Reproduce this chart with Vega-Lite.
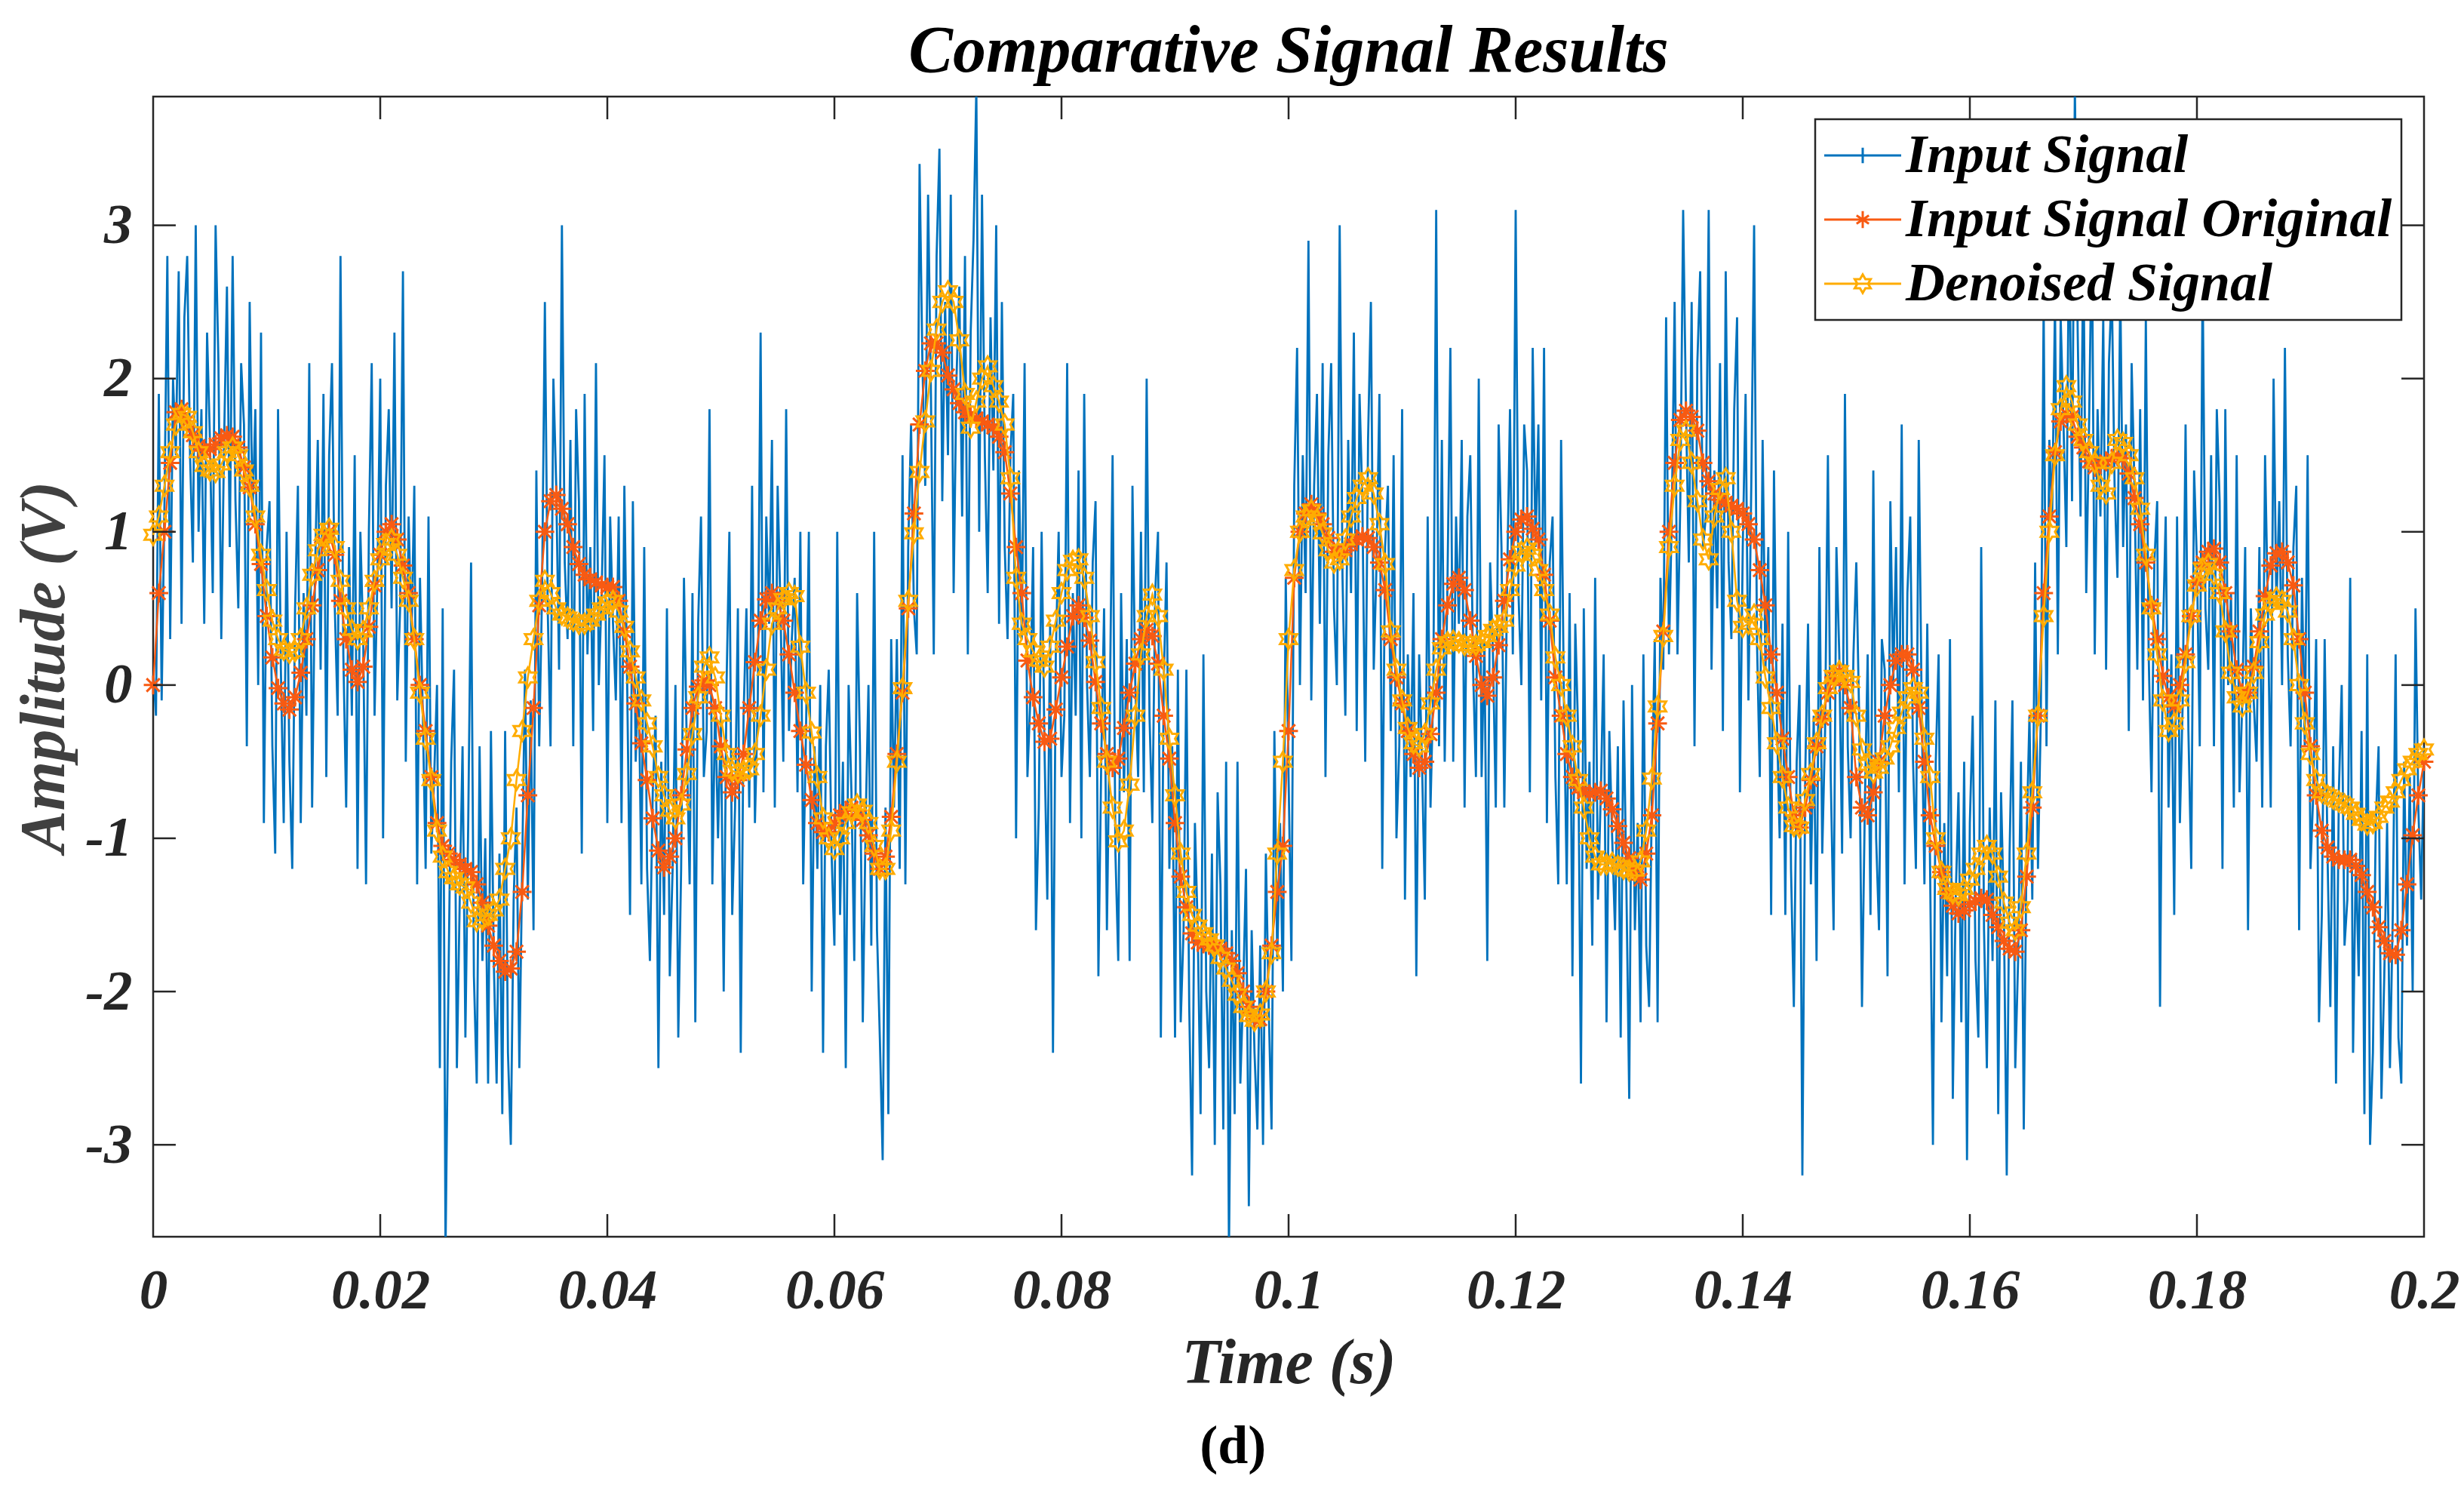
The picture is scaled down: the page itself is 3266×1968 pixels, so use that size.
{
  "$schema": "https://vega.github.io/schema/vega-lite/v6.json",
  "autosize": {"type": "none"},
  "padding": {"left": 203, "top": 128, "right": 53, "bottom": 329},
  "width": 3010,
  "height": 1511,
  "title": {"text": "Comparative Signal Results", "offset": 14},
  "data": {
    "values": [
      {"t":0,"n":0.1,"o":0,"d":0.98},{"t":0.00025,"n":-0.2},{"t":0.0005,"n":1.9,"o":0.6,"d":1.1},{"t":0.00075,"n":-0.1},{"t":0.001,"n":1.2,"o":1.0,"d":1.3},{"t":0.00125,"n":2.8},{"t":0.0015,"n":0.3,"o":1.45,"d":1.52},{"t":0.00175,"n":2.0},{"t":0.002,"n":1.5,"o":1.78,"d":1.7},{"t":0.00225,"n":2.7},{"t":0.0025,"n":0.4,"o":1.8,"d":1.77},{"t":0.00275,"n":2.4},{"t":0.003,"n":2.8,"o":1.72,"d":1.75},{"t":0.00325,"n":1.5},{"t":0.0035,"n":0.8,"o":1.63,"d":1.65},{"t":0.00375,"n":3.0},{"t":0.004,"n":1.0,"o":1.56,"d":1.52},{"t":0.00425,"n":1.8},{"t":0.0045,"n":0.4,"o":1.53,"d":1.43},{"t":0.00475,"n":2.3},
      {"t":0.005,"n":1.6,"o":1.54,"d":1.4},{"t":0.00525,"n":0.6},{"t":0.0055,"n":3.0,"o":1.57,"d":1.39},{"t":0.00575,"n":2.1},{"t":0.006,"n":0.3,"o":1.61,"d":1.44},{"t":0.00625,"n":1.6},{"t":0.0065,"n":2.6,"o":1.63,"d":1.52},{"t":0.00675,"n":0.9},{"t":0.007,"n":2.8,"o":1.62,"d":1.55},{"t":0.00725,"n":1.2},{"t":0.0075,"n":0.5,"o":1.55,"d":1.5},{"t":0.00775,"n":2.1},{"t":0.008,"n":1.7,"o":1.42,"d":1.4},{"t":0.00825,"n":-0.4},{"t":0.0085,"n":2.5,"o":1.29,"d":1.3},{"t":0.00875,"n":1.1},{"t":0.009,"n":1.8,"o":1.05,"d":1.1},{"t":0.00925,"n":0.0},{"t":0.0095,"n":2.3,"o":0.79,"d":0.85},{"t":0.00975,"n":-0.9},
      {"t":0.01,"n":0.9,"o":0.45,"d":0.62},{"t":0.01025,"n":1.2},{"t":0.0105,"n":-0.4,"o":0.18,"d":0.42},{"t":0.01075,"n":-1.1},{"t":0.011,"n":1.8,"o":-0.02,"d":0.3},{"t":0.01125,"n":0.1},{"t":0.0115,"n":-0.9,"o":-0.12,"d":0.23},{"t":0.01175,"n":1.0},{"t":0.012,"n":-0.5,"o":-0.16,"d":0.21},{"t":0.01225,"n":-1.2},{"t":0.0125,"n":0.5,"o":-0.08,"d":0.22},{"t":0.01275,"n":1.3},{"t":0.013,"n":-0.9,"o":0.08,"d":0.3},{"t":0.01325,"n":0.6},{"t":0.0135,"n":-0.2,"o":0.3,"d":0.5},{"t":0.01375,"n":2.1},{"t":0.014,"n":-0.8,"o":0.52,"d":0.72},{"t":0.01425,"n":0.7},{"t":0.0145,"n":1.6,"o":0.75,"d":0.88},{"t":0.01475,"n":0.1},
      {"t":0.015,"n":1.9,"o":0.93,"d":0.98},{"t":0.01525,"n":-0.6},{"t":0.0155,"n":1.5,"o":1.0,"d":1.02},{"t":0.01575,"n":2.1},{"t":0.016,"n":0.5,"o":0.85,"d":0.9},{"t":0.01625,"n":-0.2},{"t":0.0165,"n":2.8,"o":0.55,"d":0.68},{"t":0.01675,"n":0.2},{"t":0.017,"n":-0.8,"o":0.3,"d":0.5},{"t":0.01725,"n":0.9},{"t":0.0175,"n":-0.2,"o":0.1,"d":0.36},{"t":0.01775,"n":1.5},{"t":0.018,"n":-1.2,"o":0.02,"d":0.3},{"t":0.01825,"n":1.0},{"t":0.0185,"n":0.3,"o":0.12,"d":0.35},{"t":0.01875,"n":-1.3},{"t":0.019,"n":1.0,"o":0.38,"d":0.5},{"t":0.01925,"n":2.1},{"t":0.0195,"n":-0.2,"o":0.65,"d":0.68},{"t":0.01975,"n":0.7},
      {"t":0.02,"n":2.0,"o":0.85,"d":0.82},{"t":0.02025,"n":-1.0},{"t":0.0205,"n":1.3,"o":1.0,"d":0.92},{"t":0.02075,"n":1.8},{"t":0.021,"n":0.5,"o":1.05,"d":0.95},{"t":0.02125,"n":2.3},{"t":0.0215,"n":-0.1,"o":0.95,"d":0.85},{"t":0.02175,"n":0.5},{"t":0.022,"n":2.7,"o":0.78,"d":0.7},{"t":0.02225,"n":-0.5},{"t":0.0225,"n":1.1,"o":0.6,"d":0.55},{"t":0.02275,"n":0.3},{"t":0.023,"n":1.3,"o":0.3,"d":0.3},{"t":0.02325,"n":-1.3},{"t":0.0235,"n":0.7,"o":0.0,"d":-0.05},{"t":0.02375,"n":-0.2},{"t":0.024,"n":-1.2,"o":-0.3,"d":-0.35},{"t":0.02425,"n":1.1},{"t":0.0245,"n":-1.1,"o":-0.6,"d":-0.62},{"t":0.02475,"n":-0.6},
      {"t":0.025,"n":0.0,"o":-0.9,"d":-0.95},{"t":0.02525,"n":-2.5},{"t":0.0255,"n":0.5,"o":-1.05,"d":-1.12},{"t":0.02575,"n":-3.7},{"t":0.026,"n":-2.0,"o":-1.1,"d":-1.22},{"t":0.02625,"n":-0.5},{"t":0.0265,"n":0.1,"o":-1.14,"d":-1.26},{"t":0.02675,"n":-2.5},{"t":0.027,"n":-1.4,"o":-1.17,"d":-1.3},{"t":0.02725,"n":-0.4},{"t":0.0275,"n":-2.3,"o":-1.2,"d":-1.32},{"t":0.02775,"n":-0.9},{"t":0.028,"n":0.8,"o":-1.22,"d":-1.42},{"t":0.02825,"n":-1.9},{"t":0.0285,"n":-2.6,"o":-1.3,"d":-1.54},{"t":0.02875,"n":-0.4},{"t":0.029,"n":-1.8,"o":-1.42,"d":-1.53},{"t":0.02925,"n":-1.0},{"t":0.0295,"n":-2.6,"o":-1.57,"d":-1.5},{"t":0.02975,"n":-0.3},
      {"t":0.03,"n":-1.8,"o":-1.7,"d":-1.47},{"t":0.03025,"n":-2.6},{"t":0.0305,"n":-1.1,"o":-1.8,"d":-1.4},{"t":0.03075,"n":-2.8},{"t":0.031,"n":-0.3,"o":-1.87,"d":-1.2},{"t":0.03125,"n":-2.4},{"t":0.0315,"n":-3.0,"o":-1.85,"d":-1.0},{"t":0.03175,"n":-1.4},{"t":0.032,"n":-0.8,"o":-1.74,"d":-0.62},{"t":0.03225,"n":-2.5},{"t":0.0325,"n":-1.2,"o":-1.35,"d":-0.3},{"t":0.03275,"n":0.1},{"t":0.033,"n":-1.4,"o":-0.72,"d":0.05},{"t":0.03325,"n":-0.1},{"t":0.0335,"n":-1.6,"o":-0.15,"d":0.3},{"t":0.03375,"n":1.4},{"t":0.034,"n":-0.4,"o":0.52,"d":0.55},{"t":0.03425,"n":0.6},{"t":0.0345,"n":2.5,"o":1.0,"d":0.68},{"t":0.03475,"n":0.5},
      {"t":0.035,"n":-0.4,"o":1.2,"d":0.6},{"t":0.03525,"n":2.0},{"t":0.0355,"n":1.3,"o":1.24,"d":0.5},{"t":0.03575,"n":0.1},{"t":0.036,"n":3.0,"o":1.15,"d":0.46},{"t":0.03625,"n":0.8},{"t":0.0365,"n":0.3,"o":1.05,"d":0.44},{"t":0.03675,"n":1.6},{"t":0.037,"n":-0.4,"o":0.9,"d":0.42},{"t":0.03725,"n":1.8},{"t":0.0375,"n":1.2,"o":0.79,"d":0.4},{"t":0.03775,"n":-1.1},{"t":0.038,"n":1.9,"o":0.72,"d":0.4},{"t":0.03825,"n":0.2},{"t":0.0385,"n":0.9,"o":0.69,"d":0.42},{"t":0.03875,"n":-0.3},{"t":0.039,"n":2.1,"o":0.67,"d":0.46},{"t":0.03925,"n":0.0},{"t":0.0395,"n":0.6,"o":0.65,"d":0.5},{"t":0.03975,"n":1.5},
      {"t":0.04,"n":-0.9,"o":0.64,"d":0.54},{"t":0.04025,"n":1.1},{"t":0.0405,"n":0.4,"o":0.64,"d":0.55},{"t":0.04075,"n":-0.1},{"t":0.041,"n":1.1,"o":0.55,"d":0.48},{"t":0.04125,"n":-0.9},{"t":0.0415,"n":1.3,"o":0.35,"d":0.38},{"t":0.04175,"n":0.0},{"t":0.042,"n":-1.5,"o":0.12,"d":0.22},{"t":0.04225,"n":1.2},{"t":0.0425,"n":-0.5,"o":-0.12,"d":0.05},{"t":0.04275,"n":0.1},{"t":0.043,"n":-1.3,"o":-0.38,"d":-0.1},{"t":0.04325,"n":0.9},{"t":0.0435,"n":-1.2,"o":-0.62,"d":-0.25},{"t":0.04375,"n":-1.8},{"t":0.044,"n":-0.7,"o":-0.87,"d":-0.4},{"t":0.04425,"n":-0.2},{"t":0.0445,"n":-2.5,"o":-1.08,"d":-0.6},{"t":0.04475,"n":-0.5},
      {"t":0.045,"n":-1.5,"o":-1.19,"d":-0.72},{"t":0.04525,"n":0.5},{"t":0.0455,"n":-1.9,"o":-1.12,"d":-0.82},{"t":0.04575,"n":-1.2},{"t":0.046,"n":0.0,"o":-1.0,"d":-0.87},{"t":0.04625,"n":-2.3},{"t":0.0465,"n":-1.2,"o":-0.72,"d":-0.78},{"t":0.04675,"n":0.7},{"t":0.047,"n":-0.4,"o":-0.42,"d":-0.58},{"t":0.04725,"n":-1.3},{"t":0.0475,"n":0.6,"o":-0.15,"d":-0.32},{"t":0.04775,"n":-2.2},{"t":0.048,"n":0.4,"o":-0.01,"d":-0.08},{"t":0.04825,"n":1.1},{"t":0.0485,"n":-0.6,"o":0.03,"d":0.12},{"t":0.04875,"n":-0.3},{"t":0.049,"n":1.8,"o":0.0,"d":0.18},{"t":0.04925,"n":-1.3},{"t":0.0495,"n":-0.1,"o":-0.15,"d":0.05},{"t":0.04975,"n":-1.0},
      {"t":0.05,"n":-0.2,"o":-0.4,"d":-0.2},{"t":0.05025,"n":-2.0},{"t":0.0505,"n":0.0,"o":-0.6,"d":-0.45},{"t":0.05075,"n":1.0},{"t":0.051,"n":-1.5,"o":-0.7,"d":-0.56},{"t":0.05125,"n":-0.8},{"t":0.0515,"n":0.5,"o":-0.62,"d":-0.57},{"t":0.05175,"n":-2.4},{"t":0.052,"n":-0.2,"o":-0.45,"d":-0.56},{"t":0.05225,"n":0.5},{"t":0.0525,"n":-0.8,"o":-0.15,"d":-0.55},{"t":0.05275,"n":1.3},{"t":0.053,"n":-0.9,"o":0.15,"d":-0.45},{"t":0.05325,"n":-0.1},{"t":0.0535,"n":2.3,"o":0.42,"d":-0.2},{"t":0.05375,"n":-0.7},{"t":0.054,"n":1.1,"o":0.56,"d":0.1},{"t":0.05425,"n":0.4},{"t":0.0545,"n":1.6,"o":0.6,"d":0.4},{"t":0.05475,"n":-0.8},
      {"t":0.055,"n":1.3,"o":0.55,"d":0.5},{"t":0.05525,"n":0.5},{"t":0.0555,"n":-0.5,"o":0.42,"d":0.56},{"t":0.05575,"n":1.8},{"t":0.056,"n":-0.3,"o":0.2,"d":0.6},{"t":0.05625,"n":0.3},{"t":0.0565,"n":0.7,"o":-0.05,"d":0.58},{"t":0.05675,"n":-0.7},{"t":0.057,"n":1.0,"o":-0.3,"d":0.25},{"t":0.05725,"n":-1.3},{"t":0.0575,"n":-0.3,"o":-0.52,"d":-0.05},{"t":0.05775,"n":1.0},{"t":0.058,"n":-2.0,"o":-0.75,"d":-0.31},{"t":0.05825,"n":-0.4},{"t":0.0585,"n":-1.2,"o":-0.9,"d":-0.6},{"t":0.05875,"n":0.0},{"t":0.059,"n":-2.4,"o":-0.96,"d":-0.87},{"t":0.05925,"n":-0.4},{"t":0.0595,"n":0.1,"o":-0.96,"d":-1.0},{"t":0.05975,"n":-1.1},
      {"t":0.06,"n":-1.7,"o":-0.9,"d":-1.07},{"t":0.06025,"n":1.0},{"t":0.0605,"n":-1.5,"o":-0.85,"d":-1.0},{"t":0.06075,"n":-0.5},{"t":0.061,"n":-2.5,"o":-0.82,"d":-0.9},{"t":0.06125,"n":0.0},{"t":0.0615,"n":-0.7,"o":-0.8,"d":-0.83},{"t":0.06175,"n":-1.8},{"t":0.062,"n":0.6,"o":-0.82,"d":-0.78},{"t":0.06225,"n":-0.4},{"t":0.0625,"n":-2.2,"o":-0.88,"d":-0.82},{"t":0.06275,"n":-0.9},{"t":0.063,"n":0.0,"o":-0.98,"d":-0.9},{"t":0.06325,"n":-1.7},{"t":0.0635,"n":1.0,"o":-1.1,"d":-1.05},{"t":0.06375,"n":-1.6},{"t":0.064,"n":-2.3,"o":-1.2,"d":-1.2},{"t":0.06425,"n":-3.1},{"t":0.0645,"n":-0.8,"o":-1.12,"d":-1.2},{"t":0.06475,"n":-2.8},
      {"t":0.065,"n":0.3,"o":-0.86,"d":-0.95},{"t":0.06525,"n":-0.8},{"t":0.0655,"n":0.3,"o":-0.45,"d":-0.5},{"t":0.06575,"n":-1.2},{"t":0.066,"n":1.5,"o":-0.05,"d":-0.02},{"t":0.06625,"n":-1.3},{"t":0.0665,"n":0.9,"o":0.5,"d":0.55},{"t":0.06675,"n":1.7},{"t":0.067,"n":0.5,"o":1.12,"d":0.99},{"t":0.06725,"n":0.2},{"t":0.0675,"n":3.4,"o":1.7,"d":1.39},{"t":0.06775,"n":2.1},{"t":0.068,"n":1.3,"o":2.05,"d":1.72},{"t":0.06825,"n":3.2},{"t":0.0685,"n":1.9,"o":2.23,"d":2.05},{"t":0.06875,"n":0.2},{"t":0.069,"n":2.8,"o":2.23,"d":2.32},{"t":0.06925,"n":3.5},{"t":0.0695,"n":1.2,"o":2.17,"d":2.5},{"t":0.06975,"n":2.5},
      {"t":0.07,"n":1.5,"o":2.02,"d":2.57},{"t":0.07025,"n":3.2},{"t":0.0705,"n":0.6,"o":1.93,"d":2.5},{"t":0.07075,"n":2.0},{"t":0.071,"n":2.6,"o":1.84,"d":2.25},{"t":0.07125,"n":1.1},{"t":0.0715,"n":2.8,"o":1.78,"d":1.9},{"t":0.07175,"n":0.2},{"t":0.072,"n":2.3,"o":1.75,"d":1.68},{"t":0.07225,"n":2.9},{"t":0.0725,"n":3.9,"o":1.74,"d":1.85},{"t":0.07275,"n":1.0},{"t":0.073,"n":3.2,"o":1.72,"d":2.0},{"t":0.07325,"n":1.5},{"t":0.0735,"n":0.6,"o":1.7,"d":2.08},{"t":0.07375,"n":2.4},{"t":0.074,"n":1.4,"o":1.68,"d":1.95},{"t":0.07425,"n":3.0},{"t":0.0745,"n":0.4,"o":1.62,"d":1.85},{"t":0.07475,"n":2.5},
      {"t":0.075,"n":0.9,"o":1.52,"d":1.7},{"t":0.07525,"n":0.3},{"t":0.0755,"n":1.5,"o":1.25,"d":1.35},{"t":0.07575,"n":1.9},{"t":0.076,"n":-1.0,"o":0.9,"d":0.7},{"t":0.07625,"n":1.4},{"t":0.0765,"n":0.3,"o":0.6,"d":0.4},{"t":0.07675,"n":2.1},{"t":0.077,"n":-0.6,"o":0.16,"d":0.3},{"t":0.07725,"n":-0.1},{"t":0.0775,"n":0.9,"o":-0.08,"d":0.22},{"t":0.07775,"n":-1.6},{"t":0.078,"n":-0.8,"o":-0.25,"d":0.16},{"t":0.07825,"n":1.0},{"t":0.0785,"n":-0.4,"o":-0.37,"d":0.12},{"t":0.07875,"n":-1.4},{"t":0.079,"n":0.4,"o":-0.35,"d":0.25},{"t":0.07925,"n":-2.4},{"t":0.0795,"n":0.2,"o":-0.16,"d":0.42},{"t":0.07975,"n":1.0},
      {"t":0.08,"n":-0.6,"o":0.05,"d":0.6},{"t":0.08025,"n":-0.2},{"t":0.0805,"n":2.1,"o":0.25,"d":0.75},{"t":0.08075,"n":-0.9},{"t":0.081,"n":0.6,"o":0.45,"d":0.81},{"t":0.08125,"n":-0.2},{"t":0.0815,"n":1.4,"o":0.52,"d":0.82},{"t":0.08175,"n":-1.0},{"t":0.082,"n":1.9,"o":0.44,"d":0.7},{"t":0.08225,"n":0.0},{"t":0.0825,"n":-0.6,"o":0.29,"d":0.45},{"t":0.08275,"n":0.8},{"t":0.083,"n":1.2,"o":0.02,"d":0.15},{"t":0.08325,"n":-1.9},{"t":0.0835,"n":-0.5,"o":-0.25,"d":-0.15},{"t":0.08375,"n":0.5},{"t":0.084,"n":-1.6,"o":-0.45,"d":-0.5},{"t":0.08425,"n":-0.2},{"t":0.0845,"n":1.5,"o":-0.54,"d":-0.8},{"t":0.08475,"n":-1.1},
      {"t":0.085,"n":-1.8,"o":-0.48,"d":-1.02},{"t":0.08525,"n":0.6},{"t":0.0855,"n":-0.7,"o":-0.28,"d":-0.95},{"t":0.08575,"n":0.3},{"t":0.086,"n":-1.8,"o":-0.05,"d":-0.65},{"t":0.08625,"n":1.3},{"t":0.0865,"n":0.0,"o":0.14,"d":-0.2},{"t":0.08675,"n":-0.6},{"t":0.087,"n":1.0,"o":0.3,"d":0.2},{"t":0.08725,"n":-0.7},{"t":0.0875,"n":2.0,"o":0.36,"d":0.45},{"t":0.08775,"n":-0.2},{"t":0.088,"n":-0.9,"o":0.32,"d":0.59},{"t":0.08825,"n":0.6},{"t":0.0885,"n":1.0,"o":0.14,"d":0.45},{"t":0.08875,"n":-2.3},{"t":0.089,"n":0.0,"o":-0.2,"d":0.1},{"t":0.08925,"n":0.8},{"t":0.0895,"n":-1.2,"o":-0.48,"d":-0.35},{"t":0.08975,"n":-0.4},
      {"t":0.09,"n":-2.3,"o":-0.9,"d":-0.72},{"t":0.09025,"n":0.1},{"t":0.0905,"n":-2.2,"o":-1.25,"d":-1.1},{"t":0.09075,"n":-1.6},{"t":0.091,"n":0.1,"o":-1.45,"d":-1.35},{"t":0.09125,"n":-2.1},{"t":0.0915,"n":-3.2,"o":-1.62,"d":-1.5},{"t":0.09175,"n":-0.9},{"t":0.092,"n":-1.6,"o":-1.68,"d":-1.57},{"t":0.09225,"n":-2.8},{"t":0.0925,"n":0.2,"o":-1.69,"d":-1.62},{"t":0.09275,"n":-2.0},{"t":0.093,"n":-2.5,"o":-1.7,"d":-1.66},{"t":0.09325,"n":-1.1},{"t":0.0935,"n":-3.0,"o":-1.71,"d":-1.7},{"t":0.09375,"n":-0.7},{"t":0.094,"n":-1.3,"o":-1.72,"d":-1.78},{"t":0.09425,"n":-2.9},{"t":0.0945,"n":-0.5,"o":-1.75,"d":-1.85},{"t":0.09475,"n":-3.7},
      {"t":0.095,"n":-1.6,"o":-1.8,"d":-1.93},{"t":0.09525,"n":-2.8},{"t":0.0955,"n":-0.5,"o":-1.88,"d":-2.02},{"t":0.09575,"n":-2.6},{"t":0.096,"n":-2.0,"o":-2.0,"d":-2.1},{"t":0.09625,"n":-1.2},{"t":0.0965,"n":-3.4,"o":-2.1,"d":-2.16},{"t":0.09675,"n":-1.6},{"t":0.097,"n":-2.4,"o":-2.18,"d":-2.19},{"t":0.09725,"n":-2.9},{"t":0.0975,"n":-1.7,"o":-2.18,"d":-2.15},{"t":0.09775,"n":-3.0},{"t":0.098,"n":-1.1,"o":-2.0,"d":-2.0},{"t":0.09825,"n":-2.1},{"t":0.0985,"n":-2.9,"o":-1.7,"d":-1.75},{"t":0.09875,"n":-0.3},{"t":0.099,"n":-1.8,"o":-1.35,"d":-1.1},{"t":0.09925,"n":-0.9},{"t":0.0995,"n":-2.0,"o":-1.05,"d":-0.5},{"t":0.09975,"n":0.7},
      {"t":0.1,"n":-0.6,"o":-0.3,"d":0.3},{"t":0.10025,"n":-1.8},{"t":0.1005,"n":1.3,"o":0.7,"d":0.75},{"t":0.10075,"n":2.2},{"t":0.101,"n":0.0,"o":1.0,"d":1.0},{"t":0.10125,"n":1.5},{"t":0.1015,"n":0.6,"o":1.12,"d":1.1},{"t":0.10175,"n":2.9},{"t":0.102,"n":-0.1,"o":1.18,"d":1.14},{"t":0.10225,"n":1.3},{"t":0.1025,"n":1.9,"o":1.12,"d":1.08},{"t":0.10275,"n":0.4},{"t":0.103,"n":2.1,"o":1.05,"d":0.99},{"t":0.10325,"n":-0.6},{"t":0.1035,"n":1.5,"o":0.96,"d":0.88},{"t":0.10375,"n":2.1},{"t":0.104,"n":0.5,"o":0.87,"d":0.8},{"t":0.10425,"n":0.0},{"t":0.1045,"n":3.0,"o":0.86,"d":0.82},{"t":0.10475,"n":0.7},
      {"t":0.105,"n":-0.2,"o":0.88,"d":0.95},{"t":0.10525,"n":1.6},{"t":0.1055,"n":0.6,"o":0.92,"d":1.1},{"t":0.10575,"n":2.3},{"t":0.106,"n":-0.3,"o":0.95,"d":1.22},{"t":0.10625,"n":1.9},{"t":0.1065,"n":1.2,"o":0.97,"d":1.3},{"t":0.10675,"n":-0.5},{"t":0.107,"n":1.6,"o":0.96,"d":1.35},{"t":0.10725,"n":2.5},{"t":0.1075,"n":0.1,"o":0.9,"d":1.25},{"t":0.10775,"n":0.8},{"t":0.108,"n":1.9,"o":0.8,"d":1.05},{"t":0.10825,"n":-1.2},{"t":0.1085,"n":0.9,"o":0.62,"d":0.79},{"t":0.10875,"n":1.3},{"t":0.109,"n":-0.3,"o":0.3,"d":0.35},{"t":0.10925,"n":1.5},{"t":0.1095,"n":-1.0,"o":0.05,"d":0.1},{"t":0.10975,"n":-0.4},
      {"t":0.11,"n":1.8,"o":-0.12,"d":-0.1},{"t":0.11025,"n":-1.4},{"t":0.1105,"n":0.2,"o":-0.3,"d":-0.28},{"t":0.11075,"n":-0.6},{"t":0.111,"n":0.6,"o":-0.45,"d":-0.38},{"t":0.11125,"n":-1.9},{"t":0.1115,"n":0.2,"o":-0.54,"d":-0.4},{"t":0.11175,"n":-0.5},{"t":0.112,"n":-1.4,"o":-0.5,"d":-0.32},{"t":0.11225,"n":1.1},{"t":0.1125,"n":-0.8,"o":-0.32,"d":-0.12},{"t":0.11275,"n":0.0},{"t":0.113,"n":3.1,"o":-0.05,"d":0.1},{"t":0.11325,"n":-0.4},{"t":0.1135,"n":1.6,"o":0.3,"d":0.24},{"t":0.11375,"n":-0.5},{"t":0.114,"n":0.7,"o":0.52,"d":0.28},{"t":0.11425,"n":2.2},{"t":0.1145,"n":-0.5,"o":0.66,"d":0.29},{"t":0.11475,"n":1.1},
      {"t":0.115,"n":0.4,"o":0.7,"d":0.28},{"t":0.11525,"n":1.6},{"t":0.1155,"n":-0.8,"o":0.62,"d":0.26},{"t":0.11575,"n":1.1},{"t":0.116,"n":1.5,"o":0.42,"d":0.26},{"t":0.11625,"n":0.1},{"t":0.1165,"n":-0.6,"o":0.19,"d":0.26},{"t":0.11675,"n":2.0},{"t":0.117,"n":-0.6,"o":0.0,"d":0.28},{"t":0.11725,"n":0.3},{"t":0.1175,"n":-1.8,"o":-0.07,"d":0.32},{"t":0.11775,"n":0.8},{"t":0.118,"n":0.2,"o":0.05,"d":0.36},{"t":0.11825,"n":-0.8},{"t":0.1185,"n":1.7,"o":0.26,"d":0.38},{"t":0.11875,"n":0.9},{"t":0.119,"n":-0.8,"o":0.55,"d":0.42},{"t":0.11925,"n":0.7},{"t":0.1195,"n":1.8,"o":0.82,"d":0.62},{"t":0.11975,"n":0.2},
      {"t":0.12,"n":3.1,"o":1.0,"d":0.78},{"t":0.12025,"n":0.6},{"t":0.1205,"n":0.0,"o":1.08,"d":0.87},{"t":0.12075,"n":1.7},{"t":0.121,"n":1.4,"o":1.1,"d":0.89},{"t":0.12125,"n":-0.7},{"t":0.1215,"n":2.2,"o":1.02,"d":0.85},{"t":0.12175,"n":0.9},{"t":0.122,"n":1.7,"o":0.95,"d":0.75},{"t":0.12225,"n":-0.1},{"t":0.1225,"n":2.2,"o":0.72,"d":0.62},{"t":0.12275,"n":-0.9},{"t":0.123,"n":0.8,"o":0.42,"d":0.46},{"t":0.12325,"n":1.1},{"t":0.1235,"n":-0.6,"o":0.05,"d":0.18},{"t":0.12375,"n":-1.3},{"t":0.124,"n":1.6,"o":-0.2,"d":0.0},{"t":0.12425,"n":-0.1},{"t":0.1245,"n":-1.3,"o":-0.45,"d":-0.2},{"t":0.12475,"n":0.6},
      {"t":0.125,"n":-1.9,"o":-0.6,"d":-0.4},{"t":0.12525,"n":0.4},{"t":0.1255,"n":-0.3,"o":-0.67,"d":-0.62},{"t":0.12575,"n":-2.6},{"t":0.126,"n":0.5,"o":-0.7,"d":-0.8},{"t":0.12625,"n":-1.2},{"t":0.1265,"n":-0.5,"o":-0.71,"d":-1.0},{"t":0.12675,"n":-1.7},{"t":0.127,"n":0.7,"o":-0.7,"d":-1.12},{"t":0.12725,"n":-1.4},{"t":0.1275,"n":-0.7,"o":-0.69,"d":-1.17},{"t":0.12775,"n":0.2},{"t":0.128,"n":-2.2,"o":-0.74,"d":-1.17},{"t":0.12825,"n":-0.3},{"t":0.1285,"n":-1.0,"o":-0.81,"d":-1.16},{"t":0.12875,"n":-1.6},{"t":0.129,"n":-0.4,"o":-0.92,"d":-1.18},{"t":0.12925,"n":-2.3},{"t":0.1295,"n":-0.1,"o":-1.03,"d":-1.2},{"t":0.12975,"n":-1.3},
      {"t":0.13,"n":-2.7,"o":-1.13,"d":-1.21},{"t":0.13025,"n":0.0},{"t":0.1305,"n":-1.6,"o":-1.22,"d":-1.21},{"t":0.13075,"n":-0.9},{"t":0.131,"n":-2.2,"o":-1.27,"d":-1.15},{"t":0.13125,"n":0.2},{"t":0.1315,"n":-1.7,"o":-1.1,"d":-0.95},{"t":0.13175,"n":-2.1},{"t":0.132,"n":-0.7,"o":-0.85,"d":-0.61},{"t":0.13225,"n":0.3},{"t":0.1325,"n":-2.2,"o":-0.25,"d":-0.14},{"t":0.13275,"n":0.7},{"t":0.133,"n":0.1,"o":0.35,"d":0.32},{"t":0.13325,"n":2.4},{"t":0.1335,"n":0.2,"o":1.0,"d":0.9},{"t":0.13375,"n":1.1},{"t":0.134,"n":2.5,"o":1.45,"d":1.3},{"t":0.13425,"n":0.2},{"t":0.1345,"n":1.2,"o":1.73,"d":1.6},{"t":0.13475,"n":3.1},
      {"t":0.135,"n":1.8,"o":1.79,"d":1.66},{"t":0.13525,"n":0.8},{"t":0.1355,"n":2.5,"o":1.75,"d":1.45},{"t":0.13575,"n":-0.4},{"t":0.136,"n":2.1,"o":1.66,"d":1.2},{"t":0.13625,"n":2.7},{"t":0.1365,"n":0.9,"o":1.45,"d":0.95},{"t":0.13675,"n":1.1},{"t":0.137,"n":3.1,"o":1.33,"d":0.82},{"t":0.13725,"n":0.1},{"t":0.1375,"n":1.4,"o":1.25,"d":1.1},{"t":0.13775,"n":0.5},{"t":0.138,"n":2.1,"o":1.21,"d":1.28},{"t":0.13825,"n":-0.3},{"t":0.1385,"n":2.7,"o":1.19,"d":1.35},{"t":0.13875,"n":0.8},{"t":0.139,"n":0.3,"o":1.17,"d":1.0},{"t":0.13925,"n":1.8},{"t":0.1395,"n":2.4,"o":1.15,"d":0.55},{"t":0.13975,"n":-0.7},
      {"t":0.14,"n":0.9,"o":1.12,"d":0.38},{"t":0.14025,"n":1.9},{"t":0.1405,"n":-0.1,"o":1.05,"d":0.4},{"t":0.14075,"n":1.3},{"t":0.141,"n":3.0,"o":0.95,"d":0.46},{"t":0.14125,"n":0.3},{"t":0.1415,"n":-0.6,"o":0.75,"d":0.3},{"t":0.14175,"n":1.6},{"t":0.142,"n":0.1,"o":0.52,"d":0.05},{"t":0.14225,"n":0.9},{"t":0.1425,"n":-1.5,"o":0.2,"d":-0.15},{"t":0.14275,"n":1.4},{"t":0.143,"n":-0.2,"o":-0.05,"d":-0.38},{"t":0.14325,"n":-1.0},{"t":0.1435,"n":0.4,"o":-0.35,"d":-0.6},{"t":0.14375,"n":-1.5},{"t":0.144,"n":1.0,"o":-0.6,"d":-0.8},{"t":0.14425,"n":-1.2},{"t":0.1445,"n":-2.1,"o":-0.85,"d":-0.92},{"t":0.14475,"n":-0.5},
      {"t":0.145,"n":0.0,"o":-0.93,"d":-0.93},{"t":0.14525,"n":-3.2},{"t":0.1455,"n":-0.6,"o":-0.8,"d":-0.75},{"t":0.14575,"n":0.4},{"t":0.146,"n":-1.3,"o":-0.62,"d":-0.58},{"t":0.14625,"n":-0.2},{"t":0.1465,"n":-1.8,"o":-0.4,"d":-0.38},{"t":0.14675,"n":0.9},{"t":0.147,"n":-1.1,"o":-0.22,"d":-0.2},{"t":0.14725,"n":-0.3},{"t":0.1475,"n":1.5,"o":-0.05,"d":-0.02},{"t":0.14775,"n":-0.6},{"t":0.148,"n":-1.6,"o":0.05,"d":0.06},{"t":0.14825,"n":0.9},{"t":0.1485,"n":0.2,"o":0.09,"d":0.09},{"t":0.14875,"n":-1.1},{"t":0.149,"n":1.9,"o":0.0,"d":0.06},{"t":0.14925,"n":-0.4},{"t":0.1495,"n":-1.0,"o":-0.15,"d":0.02},{"t":0.14975,"n":0.2},
      {"t":0.15,"n":0.8,"o":-0.6,"d":-0.2},{"t":0.15025,"n":-0.2},{"t":0.1505,"n":-2.1,"o":-0.8,"d":-0.42},{"t":0.15075,"n":-0.8},{"t":0.151,"n":0.2,"o":-0.85,"d":-0.52},{"t":0.15125,"n":-1.5},{"t":0.1515,"n":1.4,"o":-0.7,"d":-0.57},{"t":0.15175,"n":-1.0},{"t":0.152,"n":-1.6,"o":-0.5,"d":-0.54},{"t":0.15225,"n":0.3},{"t":0.1525,"n":0.1,"o":-0.2,"d":-0.48},{"t":0.15275,"n":-1.9},{"t":0.153,"n":1.2,"o":0.0,"d":-0.4},{"t":0.15325,"n":0.0},{"t":0.1535,"n":0.9,"o":0.16,"d":-0.28},{"t":0.15375,"n":-0.7},{"t":0.154,"n":1.7,"o":0.2,"d":-0.18},{"t":0.15425,"n":-1.3},{"t":0.1545,"n":0.6,"o":0.2,"d":-0.08},{"t":0.15475,"n":1.1},
      {"t":0.155,"n":-0.5,"o":0.1,"d":-0.02},{"t":0.15525,"n":-1.2},{"t":0.1555,"n":1.6,"o":-0.15,"d":-0.05},{"t":0.15575,"n":-0.1},{"t":0.156,"n":-1.3,"o":-0.5,"d":-0.35},{"t":0.15625,"n":0.4},{"t":0.1565,"n":-1.2,"o":-0.85,"d":-0.6},{"t":0.15675,"n":-3.0},{"t":0.157,"n":-0.5,"o":-1.05,"d":-1.0},{"t":0.15725,"n":0.2},{"t":0.1575,"n":-2.2,"o":-1.22,"d":-1.22},{"t":0.15775,"n":-0.9},{"t":0.158,"n":-1.9,"o":-1.35,"d":-1.33},{"t":0.15825,"n":0.3},{"t":0.1585,"n":-2.7,"o":-1.44,"d":-1.36},{"t":0.15875,"n":-1.4},{"t":0.159,"n":-0.7,"o":-1.49,"d":-1.37},{"t":0.15925,"n":-2.2},{"t":0.1595,"n":-0.5,"o":-1.47,"d":-1.33},{"t":0.15975,"n":-3.1},
      {"t":0.16,"n":-0.9,"o":-1.43,"d":-1.27},{"t":0.16025,"n":-0.2},{"t":0.1605,"n":-1.8,"o":-1.41,"d":-1.2},{"t":0.16075,"n":-2.3},{"t":0.161,"n":0.9,"o":-1.39,"d":-1.1},{"t":0.16125,"n":-1.6},{"t":0.1615,"n":-2.5,"o":-1.4,"d":-1.05},{"t":0.16175,"n":-0.8},{"t":0.162,"n":-1.8,"o":-1.5,"d":-1.1},{"t":0.16225,"n":-0.1},{"t":0.1625,"n":-2.8,"o":-1.58,"d":-1.25},{"t":0.16275,"n":-0.7},{"t":0.163,"n":-1.5,"o":-1.67,"d":-1.42},{"t":0.16325,"n":-3.2},{"t":0.1635,"n":-1.1,"o":-1.72,"d":-1.55},{"t":0.16375,"n":-0.1},{"t":0.164,"n":-2.5,"o":-1.74,"d":-1.6},{"t":0.16425,"n":-1.8},{"t":0.1645,"n":-0.5,"o":-1.6,"d":-1.45},{"t":0.16475,"n":-2.9},
      {"t":0.165,"n":-1.0,"o":-1.25,"d":-1.1},{"t":0.16525,"n":-0.2},{"t":0.1655,"n":-1.4,"o":-0.8,"d":-0.7},{"t":0.16575,"n":0.8},{"t":0.166,"n":-1.2,"o":-0.2,"d":-0.2},{"t":0.16625,"n":-0.2},{"t":0.1665,"n":2.5,"o":0.6,"d":0.45},{"t":0.16675,"n":-0.4},{"t":0.167,"n":1.6,"o":1.1,"d":1.0},{"t":0.16725,"n":1.1},{"t":0.1675,"n":2.5,"o":1.52,"d":1.5},{"t":0.16775,"n":0.2},{"t":0.168,"n":2.4,"o":1.72,"d":1.8},{"t":0.16825,"n":1.7},{"t":0.1685,"n":0.9,"o":1.77,"d":1.95},{"t":0.16875,"n":3.1},{"t":0.169,"n":1.2,"o":1.75,"d":1.85},{"t":0.16925,"n":3.9},{"t":0.1695,"n":2.3,"o":1.62,"d":1.7},{"t":0.16975,"n":1.1},
      {"t":0.17,"n":2.9,"o":1.55,"d":1.6},{"t":0.17025,"n":0.6},{"t":0.1705,"n":1.7,"o":1.46,"d":1.52},{"t":0.17075,"n":3.0},{"t":0.171,"n":0.2,"o":1.42,"d":1.45},{"t":0.17125,"n":1.8},{"t":0.1715,"n":1.1,"o":1.44,"d":1.3},{"t":0.17175,"n":2.4},{"t":0.172,"n":0.1,"o":1.46,"d":1.25},{"t":0.17225,"n":2.1},{"t":0.1725,"n":2.6,"o":1.48,"d":1.45},{"t":0.17275,"n":1.3},{"t":0.173,"n":0.7,"o":1.49,"d":1.6},{"t":0.17325,"n":2.6},{"t":0.1735,"n":0.9,"o":1.48,"d":1.58},{"t":0.17375,"n":1.7},{"t":0.174,"n":-0.3,"o":1.38,"d":1.5},{"t":0.17425,"n":2.1},{"t":0.1745,"n":1.3,"o":1.22,"d":1.35},{"t":0.17475,"n":0.1},
      {"t":0.175,"n":1.8,"o":1.05,"d":1.15},{"t":0.17525,"n":-0.1},{"t":0.1755,"n":2.4,"o":0.8,"d":0.85},{"t":0.17575,"n":0.2},{"t":0.176,"n":-0.7,"o":0.52,"d":0.5},{"t":0.17625,"n":0.8},{"t":0.1765,"n":1.2,"o":0.3,"d":0.2},{"t":0.17675,"n":-2.1},{"t":0.177,"n":0.3,"o":0.06,"d":-0.1},{"t":0.17725,"n":1.1},{"t":0.1775,"n":-0.8,"o":-0.08,"d":-0.3},{"t":0.17775,"n":0.2},{"t":0.178,"n":-1.5,"o":-0.14,"d":-0.25},{"t":0.17825,"n":1.1},{"t":0.1785,"n":-0.9,"o":0.0,"d":-0.1},{"t":0.17875,"n":-0.1},{"t":0.179,"n":1.7,"o":0.2,"d":0.15},{"t":0.17925,"n":-0.3},{"t":0.1795,"n":-1.2,"o":0.45,"d":0.45},{"t":0.17975,"n":1.4},
      {"t":0.18,"n":0.8,"o":0.67,"d":0.65},{"t":0.18025,"n":-0.4},{"t":0.1805,"n":2.7,"o":0.8,"d":0.76},{"t":0.18075,"n":0.5},{"t":0.181,"n":0.1,"o":0.87,"d":0.79},{"t":0.18125,"n":1.5},{"t":0.1815,"n":-0.4,"o":0.89,"d":0.72},{"t":0.18175,"n":1.8},{"t":0.182,"n":1.2,"o":0.8,"d":0.6},{"t":0.18225,"n":-1.2},{"t":0.1825,"n":1.8,"o":0.6,"d":0.35},{"t":0.18275,"n":0.0},{"t":0.183,"n":0.6,"o":0.35,"d":0.08},{"t":0.18325,"n":-0.8},{"t":0.1835,"n":1.5,"o":0.1,"d":-0.08},{"t":0.18375,"n":-0.7},{"t":0.184,"n":-0.1,"o":-0.05,"d":-0.14},{"t":0.18425,"n":0.9},{"t":0.1845,"n":-1.6,"o":-0.05,"d":-0.05},{"t":0.18475,"n":0.5},
      {"t":0.185,"n":-0.1,"o":0.12,"d":0.08},{"t":0.18525,"n":-0.5},{"t":0.1855,"n":0.9,"o":0.35,"d":0.28},{"t":0.18575,"n":-0.8},{"t":0.186,"n":1.5,"o":0.58,"d":0.46},{"t":0.18625,"n":0.5},{"t":0.1865,"n":-0.8,"o":0.78,"d":0.53},{"t":0.18675,"n":2.0},{"t":0.187,"n":0.5,"o":0.86,"d":0.57},{"t":0.18725,"n":1.2},{"t":0.1875,"n":0.0,"o":0.87,"d":0.55},{"t":0.18775,"n":2.2},{"t":0.188,"n":0.2,"o":0.8,"d":0.48},{"t":0.18825,"n":-0.4},{"t":0.1885,"n":0.9,"o":0.65,"d":0.3},{"t":0.18875,"n":1.3},{"t":0.189,"n":-1.6,"o":0.3,"d":0.0},{"t":0.18925,"n":0.7},{"t":0.1895,"n":-0.4,"o":-0.05,"d":-0.25},{"t":0.18975,"n":1.5},
      {"t":0.19,"n":-1.2,"o":-0.4,"d":-0.45},{"t":0.19025,"n":-0.7},{"t":0.1905,"n":0.3,"o":-0.72,"d":-0.62},{"t":0.19075,"n":-2.2},{"t":0.191,"n":-1.5,"o":-0.95,"d":-0.7},{"t":0.19125,"n":0.3},{"t":0.1915,"n":-1.1,"o":-1.06,"d":-0.72},{"t":0.19175,"n":-2.1},{"t":0.192,"n":-0.4,"o":-1.12,"d":-0.74},{"t":0.19225,"n":-2.6},{"t":0.1925,"n":-0.7,"o":-1.14,"d":-0.76},{"t":0.19275,"n":0.0},{"t":0.193,"n":-1.7,"o":-1.14,"d":-0.78},{"t":0.19325,"n":-1.4},{"t":0.1935,"n":0.7,"o":-1.14,"d":-0.8},{"t":0.19375,"n":-2.4},{"t":0.194,"n":-1.1,"o":-1.18,"d":-0.84},{"t":0.19425,"n":-1.9},{"t":0.1945,"n":-0.3,"o":-1.24,"d":-0.88},{"t":0.19475,"n":-2.8},
      {"t":0.195,"n":0.2,"o":-1.35,"d":-0.91},{"t":0.19525,"n":-3.0},{"t":0.1955,"n":-2.4,"o":-1.45,"d":-0.9},{"t":0.19575,"n":-0.9},{"t":0.196,"n":-0.4,"o":-1.58,"d":-0.86},{"t":0.19625,"n":-2.7},{"t":0.1965,"n":-1.9,"o":-1.67,"d":-0.8},{"t":0.19675,"n":-0.9},{"t":0.197,"n":-2.5,"o":-1.75,"d":-0.76},{"t":0.19725,"n":-1.5},{"t":0.1975,"n":0.2,"o":-1.76,"d":-0.7},{"t":0.19775,"n":-2.3},{"t":0.198,"n":-2.6,"o":-1.6,"d":-0.62},{"t":0.19825,"n":-0.5},{"t":0.1985,"n":-1.7,"o":-1.3,"d":-0.55},{"t":0.19875,"n":-0.6},{"t":0.199,"n":-2.0,"o":-0.98,"d":-0.5},{"t":0.19925,"n":0.5},{"t":0.1995,"n":-0.8,"o":-0.72,"d":-0.45},{"t":0.19975,"n":-1.4},{"t":0.2,"n":-0.4,"o":-0.5,"d":-0.42}
    ]
  },
  "layer": [
    {
      "mark": {"type": "line", "strokeWidth": 2.8, "clip": true},
      "encoding": {
        "x": {"field": "t", "type": "quantitative", "title": "Time (s)",
              "scale": {"domain": [0, 0.2], "nice": false, "zero": false},
              "axis": {"values": [0, 0.02, 0.04, 0.06, 0.08, 0.1, 0.12, 0.14, 0.16, 0.18, 0.2], "format": "~g"}},
        "y": {"field": "n", "type": "quantitative", "title": "Amplitude (V)",
              "scale": {"domain": [-3.6, 3.84], "nice": false, "zero": false},
              "axis": {"values": [-3, -2, -1, 0, 1, 2, 3], "labelExpr": "datum.value < 0 ? '-' + format(-datum.value, '~g') : format(datum.value, '~g')"}},
        "color": {
          "datum": "Input Signal", "type": "nominal",
          "scale": {"domain": ["Input Signal", "Input Signal Original", "Denoised Signal"], "range": ["#0072BD", "#F85A12", "#FFAC00"]},
          "legend": {
            "title": null, "orient": "top-right", "offset": 30,
            "symbolType": "M-5,0H5", "symbolSize": 416, "symbolStrokeWidth": 3, "symbolOffset": 15,
            "labelFont": "Liberation Serif", "labelFontSize": 72, "labelFontStyle": "italic", "labelFontWeight": "bold", "labelColor": "#000000",
            "labelLimit": 2000, "labelOffset": 21, "rowPadding": 13, "padding": 12,
            "strokeColor": "#262626", "fillColor": "#ffffff",
            "encode": {
              "legend": {"update": {"strokeWidth": {"value": 2.5}}},
              "symbols": {"update": {
                "shape": {"signal": "datum.value === 'Input Signal' ? 'M-5,0H5M0,-1V1' : datum.value === 'Input Signal Original' ? 'M-5,0H5M0,-1.1V1.1M-0.8,-0.55L0.8,0.55M-0.8,0.55L0.8,-0.55' : 'M-5,0H5M0,-1.2L0.35,-0.6L1.04,-0.6L0.69,0L1.04,0.6L0.35,0.6L0,1.2L-0.35,0.6L-1.04,0.6L-0.69,0L-1.04,-0.6L-0.35,-0.6Z'"},
                "fill": {"value": "transparent"},
                "strokeWidth": {"value": 3}
              }}
            }
          }
        }
      }
    },
    {
      "transform": [{"filter": "isValid(datum.o)"}],
      "mark": {"type": "line", "strokeWidth": 2.5},
      "encoding": {
        "x": {"field": "t", "type": "quantitative", "title": "Time (s)"},
        "y": {"field": "o", "type": "quantitative", "title": "Amplitude (V)"},
        "color": {"datum": "Input Signal Original", "type": "nominal"}
      }
    },
    {
      "transform": [{"filter": "isValid(datum.o)"}],
      "mark": {"type": "point", "shape": "M0,-1V1M-1,0H1M-0.7,-0.7L0.7,0.7M-0.7,0.7L0.7,-0.7", "filled": false, "size": 620, "strokeWidth": 3, "opacity": 1},
      "encoding": {
        "x": {"field": "t", "type": "quantitative", "title": "Time (s)"},
        "y": {"field": "o", "type": "quantitative", "title": "Amplitude (V)"},
        "color": {"datum": "Input Signal Original", "type": "nominal"}
      }
    },
    {
      "transform": [{"filter": "isValid(datum.d)"}],
      "mark": {"type": "line", "strokeWidth": 2.5},
      "encoding": {
        "x": {"field": "t", "type": "quantitative", "title": "Time (s)"},
        "y": {"field": "d", "type": "quantitative", "title": "Amplitude (V)"},
        "color": {"datum": "Denoised Signal", "type": "nominal"}
      }
    },
    {
      "transform": [{"filter": "isValid(datum.d)"}],
      "mark": {"type": "point", "shape": "M0,-1L0.289,-0.5L0.866,-0.5L0.577,0L0.866,0.5L0.289,0.5L0,1L-0.289,0.5L-0.866,0.5L-0.577,0L-0.866,-0.5L-0.289,-0.5Z", "filled": false, "size": 680, "strokeWidth": 3, "opacity": 1},
      "encoding": {
        "x": {"field": "t", "type": "quantitative", "title": "Time (s)"},
        "y": {"field": "d", "type": "quantitative", "title": "Amplitude (V)"},
        "color": {"datum": "Denoised Signal", "type": "nominal"}
      }
    },
    {
      "data": {"values": [{"v": 0.02}, {"v": 0.04}, {"v": 0.06}, {"v": 0.08}, {"v": 0.1}, {"v": 0.12}, {"v": 0.14}, {"v": 0.16}, {"v": 0.18}]},
      "mark": {"type": "rule", "color": "#262626", "strokeWidth": 2.5},
      "encoding": {
        "x": {"field": "v", "type": "quantitative", "title": "Time (s)"},
        "y": {"datum": -3.6, "type": "quantitative"},
        "y2": {"datum": -3.452}
      }
    },
    {
      "data": {"values": [{"v": 0.02}, {"v": 0.04}, {"v": 0.06}, {"v": 0.08}, {"v": 0.1}, {"v": 0.12}, {"v": 0.14}, {"v": 0.16}, {"v": 0.18}]},
      "mark": {"type": "rule", "color": "#262626", "strokeWidth": 2.5},
      "encoding": {
        "x": {"field": "v", "type": "quantitative", "title": "Time (s)"},
        "y": {"datum": 3.84, "type": "quantitative"},
        "y2": {"datum": 3.692}
      }
    },
    {
      "data": {"values": [{"v": -3}, {"v": -2}, {"v": -1}, {"v": 0}, {"v": 1}, {"v": 2}, {"v": 3}]},
      "mark": {"type": "rule", "color": "#262626", "strokeWidth": 2.5},
      "encoding": {
        "y": {"field": "v", "type": "quantitative", "title": "Amplitude (V)"},
        "x": {"datum": 0, "type": "quantitative"},
        "x2": {"datum": 0.00199}
      }
    },
    {
      "data": {"values": [{"v": -3}, {"v": -2}, {"v": -1}, {"v": 0}, {"v": 1}, {"v": 2}, {"v": 3}]},
      "mark": {"type": "rule", "color": "#262626", "strokeWidth": 2.5},
      "encoding": {
        "y": {"field": "v", "type": "quantitative", "title": "Amplitude (V)"},
        "x": {"datum": 0.2, "type": "quantitative"},
        "x2": {"datum": 0.19801}
      }
    },
    {
      "data": {"values": [{"label": "(d)"}]},
      "mark": {"type": "text", "font": "Liberation Serif", "fontWeight": "bold", "fontSize": 72, "color": "#000000", "baseline": "middle", "align": "center"},
      "encoding": {
        "x": {"datum": 0.0951, "type": "quantitative"},
        "y": {"datum": -4.97, "type": "quantitative"},
        "text": {"field": "label"}
      }
    }
  ],
  "config": {
    "background": "#ffffff",
    "font": "Liberation Serif",
    "view": {"stroke": "#262626", "strokeWidth": 2.5},
    "axis": {
      "domain": false, "grid": false, "ticks": false, "tickSize": 0,
      "labelFont": "Liberation Serif", "labelFontSize": 75, "labelFontStyle": "italic", "labelFontWeight": "bold", "labelColor": "#262626",
      "labelFlush": false, "labelOverlap": false,
      "titleFont": "Liberation Serif", "titleFontSize": 84, "titleFontStyle": "italic", "titleFontWeight": "bold", "titleColor": "#262626"
    },
    "axisX": {"labelPadding": 35, "titlePadding": 18},
    "axisY": {"labelPadding": 28, "titlePadding": 10, "titleColor": "#404040"},
    "title": {"font": "Liberation Serif", "fontSize": 88, "fontStyle": "italic", "fontWeight": "bold", "color": "#000000", "anchor": "middle"}
  }
}
